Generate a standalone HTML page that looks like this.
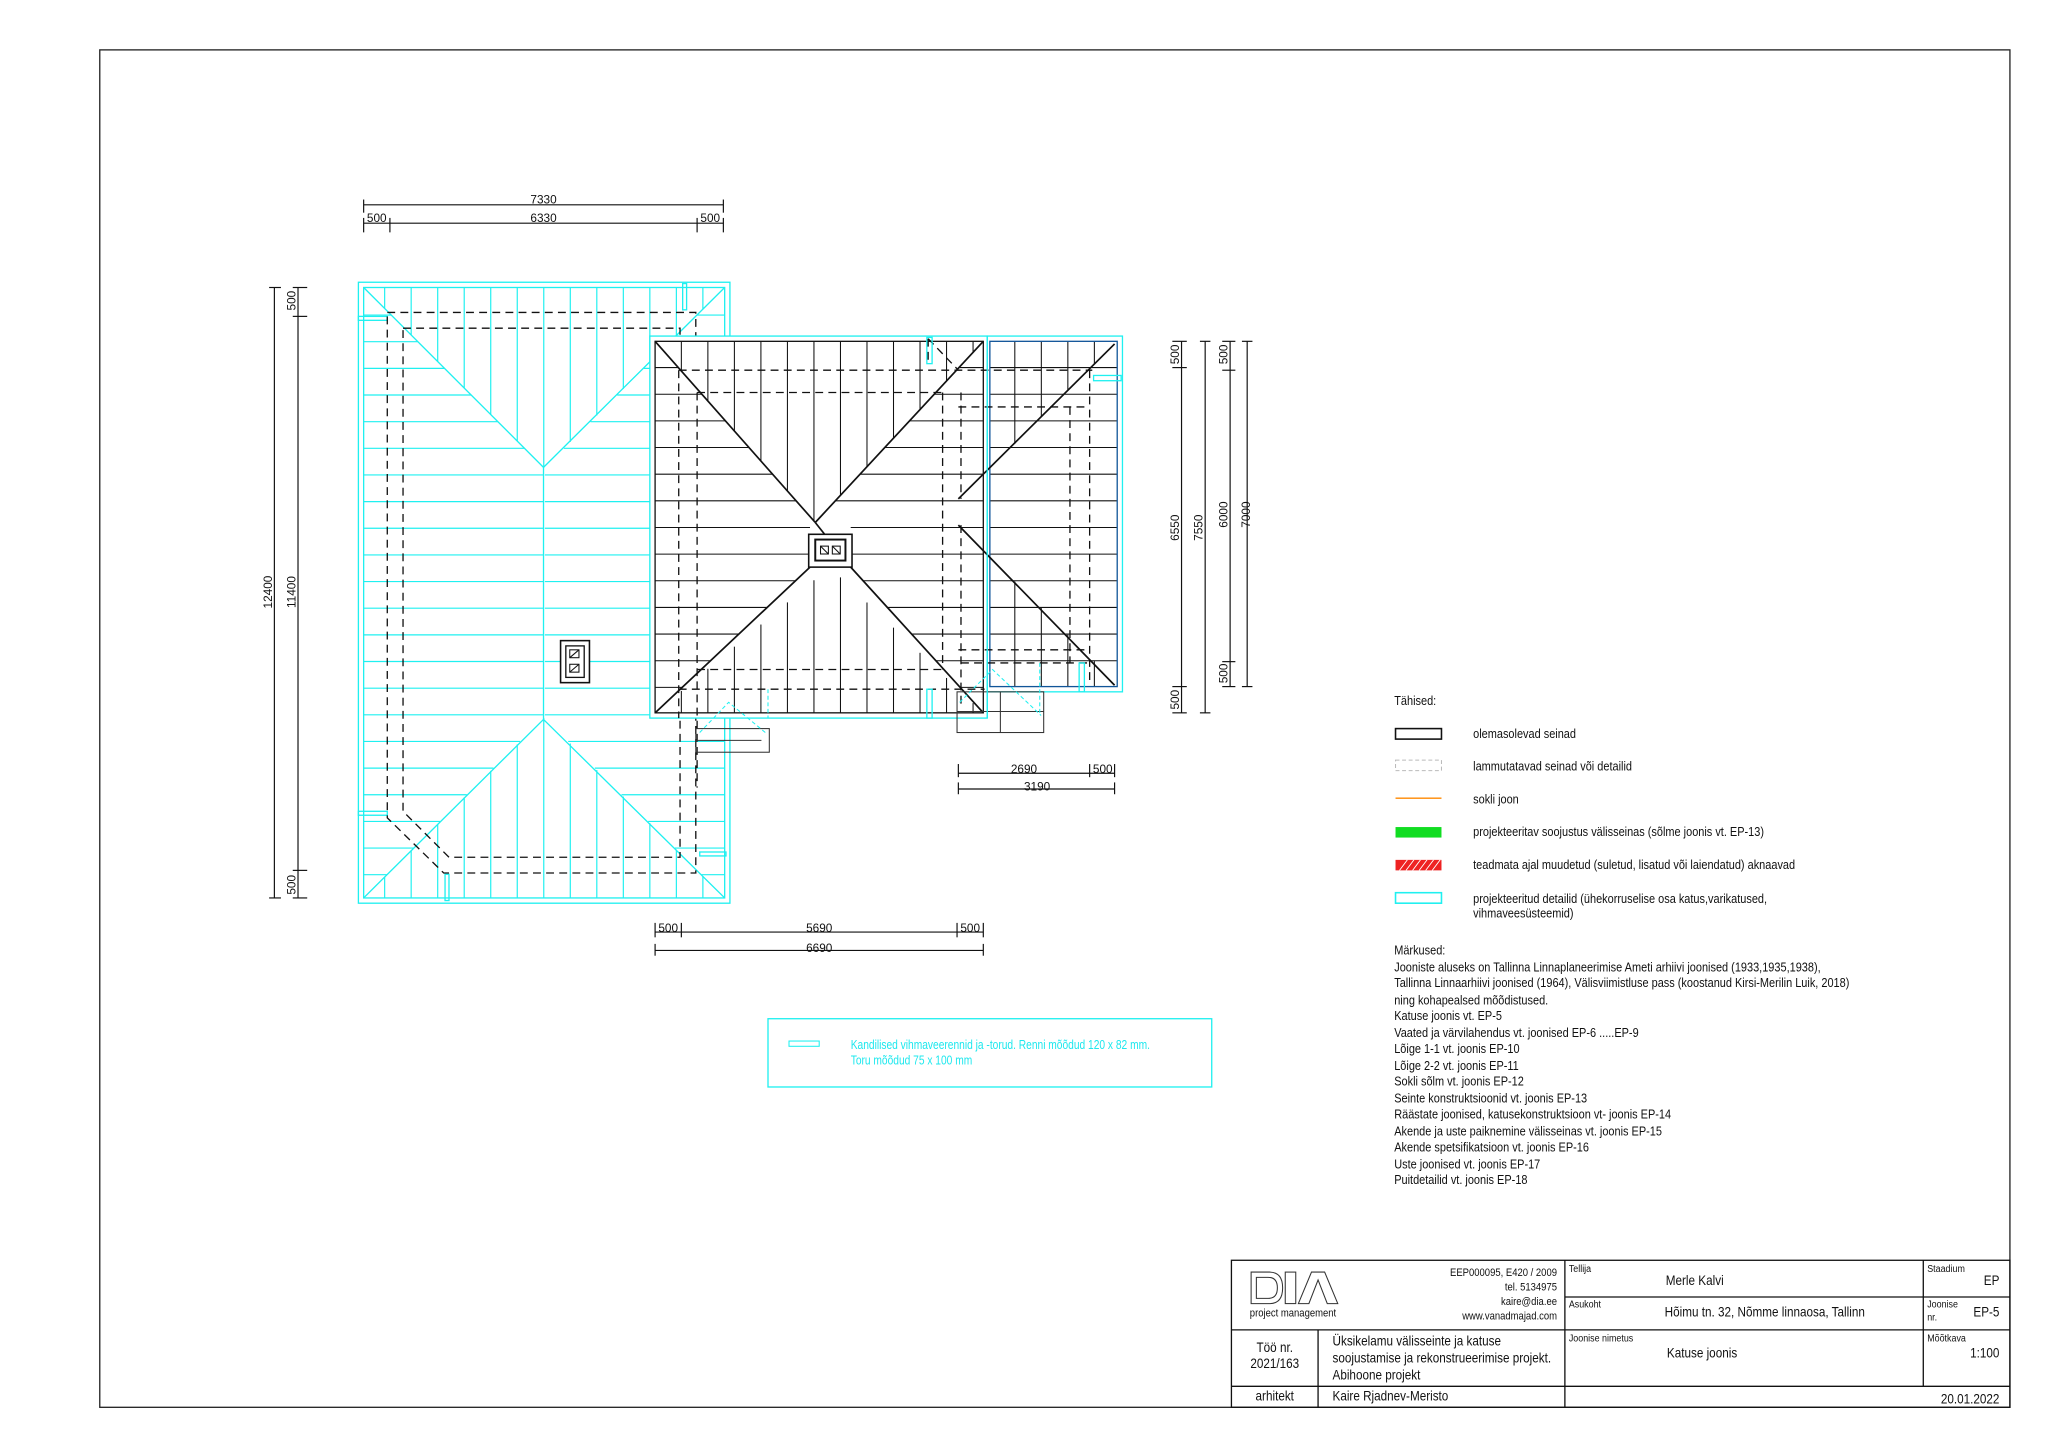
<!DOCTYPE html>
<html><head><meta charset="utf-8"><style>
html,body{margin:0;padding:0;background:#fff;}
svg{display:block}
text{font-family:"Liberation Sans Narrow","Liberation Sans",sans-serif;fill:#111;}
</style></head><body>
<svg id="s" width="2048" height="1448" viewBox="0 0 1560 1103" preserveAspectRatio="none" xmlns="http://www.w3.org/2000/svg">
<rect x="0" y="0" width="1560" height="1103" fill="#fff"/>
<rect x="76" y="38" width="1455" height="1034" fill="none" stroke="#222" stroke-width="1"/>

<g id="cy" stroke="#1ff0f0" fill="none" stroke-width="0.9"></g>

<g stroke="#1ff0f0" fill="none" stroke-width="1">
<rect x="273" y="215" width="283" height="473"/>
<rect x="277" y="219" width="275" height="465"/>
<line x1="277" y1="219" x2="414" y2="356"/><line x1="552" y1="219" x2="414" y2="356"/>
<line x1="414" y1="356" x2="414" y2="548"/>
<line x1="277" y1="684" x2="414" y2="548"/><line x1="552" y1="684" x2="414" y2="548"/>
<rect x="273" y="241" width="22" height="3"/><rect x="273" y="618" width="22" height="3"/>
<rect x="520" y="216" width="3" height="20"/><rect x="339" y="666" width="3" height="20"/>
<rect x="533" y="649" width="20" height="3"/>
</g>
<g stroke="#111" fill="none" stroke-width="1" stroke-dasharray="6,4">
<polyline points="295,238 530,238 530,665 338,665 295,623 295,238"/>
<polyline points="307,250 518,250 518,653 342,653 307,618 307,250"/>
</g>
<g stroke="#111" fill="#fff" stroke-width="1.2">
<rect x="427" y="488" width="22" height="32"/><rect x="431" y="492" width="14" height="24" stroke-width="1"/>
<rect x="434" y="495" width="7" height="6" stroke-width="0.8"/><line x1="434" y1="501" x2="441" y2="495" stroke-width="0.8"/>
<rect x="434" y="506" width="7" height="6" stroke-width="0.8"/><line x1="434" y1="512" x2="441" y2="506" stroke-width="0.8"/>
</g>

<rect x="495" y="256" width="257" height="291" fill="#fff" stroke="#1ff0f0" stroke-width="1"/>
<rect x="752" y="256" width="103" height="271" fill="#fff" stroke="#1ff0f0" stroke-width="1"/>
<g id="bk2" stroke="#111" fill="none" stroke-width="0.8"></g>
<g stroke="#111" fill="none" stroke-width="1">
<rect x="499" y="260" width="250" height="283"/>
<rect x="754" y="260" width="97" height="263" stroke="#159"/>
<line x1="499" y1="260" x2="621" y2="398" stroke-width="1.3"/>
<line x1="749" y1="260" x2="621" y2="398" stroke-width="1.3"/>
<line x1="621" y1="398" x2="648" y2="432" stroke-width="1.3"/>
<line x1="499" y1="543" x2="617" y2="432" stroke-width="1.3"/>
<line x1="749" y1="543" x2="648" y2="432" stroke-width="1.3"/>
<line x1="849" y1="262" x2="730" y2="380" stroke-width="1.3"/>
<line x1="730" y1="400" x2="849" y2="522" stroke-width="1.3"/>
</g>
<g stroke="#111" fill="none" stroke-width="1" stroke-dasharray="6,4">
<line x1="517" y1="282" x2="832" y2="282"/>
<line x1="531" y1="299" x2="718" y2="299"/>
<line x1="730" y1="310" x2="830" y2="310"/>
<line x1="517" y1="282" x2="517" y2="547"/><line x1="531" y1="299" x2="531" y2="600"/>
<line x1="718" y1="299" x2="718" y2="510"/><line x1="732" y1="299" x2="732" y2="380"/><line x1="732" y1="400" x2="732" y2="540"/>
<line x1="815" y1="310" x2="815" y2="505"/><line x1="830" y1="282" x2="830" y2="520"/>
<line x1="531" y1="510" x2="718" y2="510"/><line x1="517" y1="525" x2="750" y2="525"/>
<line x1="730" y1="495" x2="830" y2="495"/><line x1="732" y1="505" x2="830" y2="505"/>
<line x1="707" y1="258" x2="707" y2="278"/><line x1="707" y1="258" x2="730" y2="282"/>
</g>
<g stroke="#111" fill="#fff" stroke-width="1.2">
<rect x="616" y="407" width="33" height="25"/><rect x="621" y="411" width="23" height="16" stroke-width="1.5"/>
<rect x="625" y="416" width="6" height="6" stroke-width="0.8"/><line x1="625" y1="416" x2="631" y2="422" stroke-width="0.8"/>
<rect x="634" y="416" width="6" height="6" stroke-width="0.8"/><line x1="634" y1="416" x2="640" y2="422" stroke-width="0.8"/>
</g>
<g stroke="#333" fill="none" stroke-width="0.8">
<rect x="729" y="527" width="66" height="31"/><line x1="762" y1="527" x2="762" y2="558"/><line x1="729" y1="542" x2="795" y2="542"/>
<rect x="530" y="555" width="56" height="18"/><line x1="530" y1="564" x2="580" y2="564"/>
</g>
<g stroke="#1ff0f0" fill="none" stroke-width="0.8" stroke-dasharray="3,2">
<polyline points="533,558 555,535 583,558"/><polyline points="731,535 756,510 793,545"/>
<line x1="585" y1="525" x2="585" y2="547"/><line x1="792" y1="505" x2="792" y2="545"/>
</g>
<g stroke="#1ff0f0" fill="none" stroke-width="1">
<rect x="706" y="257" width="4" height="20"/><rect x="706" y="525" width="4" height="22"/>
<rect x="833" y="286" width="21" height="4"/><rect x="822" y="505" width="4" height="22"/>
<line x1="752" y1="256" x2="752" y2="547"/>
</g>

<g stroke="#111" stroke-width="0.9" fill="none">
<line x1="277" y1="156" x2="551" y2="156"/><line x1="277" y1="152" x2="277" y2="162"/><line x1="551" y1="152" x2="551" y2="162"/>
<line x1="277" y1="170" x2="551" y2="170"/>
<line x1="277" y1="166" x2="277" y2="177"/><line x1="297" y1="166" x2="297" y2="177"/><line x1="531" y1="166" x2="531" y2="177"/><line x1="551" y1="166" x2="551" y2="177"/>
<line x1="209" y1="219" x2="209" y2="684"/><line x1="205" y1="219" x2="214" y2="219"/><line x1="205" y1="684" x2="214" y2="684"/>
<line x1="227" y1="219" x2="227" y2="684"/>
<line x1="223" y1="219" x2="234" y2="219"/><line x1="223" y1="241" x2="234" y2="241"/><line x1="223" y1="663" x2="234" y2="663"/><line x1="223" y1="684" x2="234" y2="684"/>
<line x1="900" y1="260" x2="900" y2="543"/><line x1="893" y1="260" x2="904" y2="260"/><line x1="893" y1="280" x2="904" y2="280"/><line x1="893" y1="523" x2="904" y2="523"/><line x1="893" y1="543" x2="904" y2="543"/>
<line x1="918" y1="260" x2="918" y2="543"/><line x1="914" y1="260" x2="922" y2="260"/><line x1="914" y1="543" x2="922" y2="543"/>
<line x1="937" y1="260" x2="937" y2="523"/><line x1="931" y1="260" x2="941" y2="260"/><line x1="931" y1="282" x2="941" y2="282"/><line x1="931" y1="504" x2="941" y2="504"/><line x1="931" y1="523" x2="941" y2="523"/>
<line x1="950" y1="260" x2="950" y2="523"/><line x1="946" y1="260" x2="954" y2="260"/><line x1="946" y1="523" x2="954" y2="523"/>
<line x1="499" y1="710" x2="749" y2="710"/><line x1="499" y1="703" x2="499" y2="714"/><line x1="519" y1="703" x2="519" y2="714"/><line x1="729" y1="703" x2="729" y2="714"/><line x1="749" y1="703" x2="749" y2="714"/>
<line x1="499" y1="724" x2="749" y2="724"/><line x1="499" y1="719" x2="499" y2="728"/><line x1="749" y1="719" x2="749" y2="728"/>
<line x1="730" y1="589" x2="849" y2="589"/><line x1="730" y1="582" x2="730" y2="592"/><line x1="830" y1="582" x2="830" y2="592"/><line x1="849" y1="582" x2="849" y2="592"/>
<line x1="730" y1="601" x2="849" y2="601"/><line x1="730" y1="596" x2="730" y2="605"/><line x1="849" y1="596" x2="849" y2="605"/>
</g>
<g font-size="9" text-anchor="middle">
<text x="414" y="155">7330</text><text x="287" y="169">500</text><text x="414" y="169">6330</text><text x="541" y="169">500</text>
<text x="509" y="710">500</text><text x="624" y="710">5690</text><text x="739" y="710">500</text><text x="624" y="725">6690</text>
<text x="780" y="589">2690</text><text x="840" y="589">500</text><text x="790" y="602">3190</text>
<text transform="translate(207,451) rotate(-90)">12400</text>
<text transform="translate(225,451) rotate(-90)">11400</text>
<text transform="translate(225,229) rotate(-90)">500</text>
<text transform="translate(225,674) rotate(-90)">500</text>
<text transform="translate(898,270) rotate(-90)">500</text>
<text transform="translate(898,402) rotate(-90)">6550</text>
<text transform="translate(898,533) rotate(-90)">500</text>
<text transform="translate(916,402) rotate(-90)">7550</text>
<text transform="translate(935,270) rotate(-90)">500</text>
<text transform="translate(935,392) rotate(-90)">6000</text>
<text transform="translate(935,513) rotate(-90)">500</text>
<text transform="translate(952,392) rotate(-90)">7000</text>
</g>

<rect x="585" y="776" width="338" height="52" fill="none" stroke="#1ff0f0" stroke-width="1"/>
<rect x="601" y="793" width="23" height="4" fill="none" stroke="#1ff0f0" stroke-width="0.8"/>
<g transform="translate(648,0) scale(0.82,1)" font-size="9.5">
<text x="0" y="799" style="fill:#1ee8ee">Kandilised vihmaveerennid ja -torud. Renni mõõdud 120 x 82 mm.</text>
<text x="0" y="811" style="fill:#1ee8ee">Toru mõõdud 75 x 100 mm</text>
</g>

<rect x="1063" y="555" width="35" height="8" fill="none" stroke="#111" stroke-width="1.2"/>
<rect x="1063" y="579" width="35" height="8" fill="none" stroke="#bbb" stroke-width="0.8" stroke-dasharray="3,2"/>
<line x1="1063" y1="608" x2="1098" y2="608" stroke="#f80" stroke-width="1"/>
<rect x="1063" y="630" width="35" height="8" fill="#11dd22"/>
<rect x="1063" y="655" width="35" height="8" fill="#ee2222"/>
<g stroke="#fff" stroke-width="0.7"><line x1="1066" y1="663" x2="1072" y2="655"/><line x1="1071" y1="663" x2="1077" y2="655"/><line x1="1076" y1="663" x2="1082" y2="655"/><line x1="1081" y1="663" x2="1087" y2="655"/><line x1="1086" y1="663" x2="1092" y2="655"/><line x1="1091" y1="663" x2="1097" y2="655"/></g>
<rect x="1063" y="680" width="35" height="8" fill="none" stroke="#1ff0f0" stroke-width="1.2"/>
<g transform="translate(1062,0) scale(0.835,1)" font-size="10">
<text x="0" y="537">Tähised:</text>
<text x="72" y="562">olemasolevad seinad</text>
<text x="72" y="587">lammutatavad seinad või detailid</text>
<text x="72" y="612">sokli joon</text>
<text x="72" y="637">projekteeritav soojustus välisseinas (sõlme joonis vt. EP-13)</text>
<text x="72" y="662">teadmata ajal muudetud (suletud, lisatud või laiendatud) aknaavad</text>
<text x="72" y="688">projekteeritud detailid (ühekorruselise osa katus,varikatused,</text>
<text x="72" y="699">vihmaveesüsteemid)</text>
<text x="0" y="727">Märkused:</text>
<text x="0" y="740">Jooniste aluseks on Tallinna Linnaplaneerimise Ameti arhiivi joonised (1933,1935,1938),</text>
<text x="0" y="752">Tallinna Linnaarhiivi joonised (1964), Välisviimistluse pass (koostanud Kirsi-Merilin Luik, 2018)</text>
<text x="0" y="765">ning kohapealsed mõõdistused.</text>
<text x="0" y="777">Katuse joonis vt. EP-5</text>
<text x="0" y="790">Vaated ja värvilahendus vt. joonised EP-6 .....EP-9</text>
<text x="0" y="802">Lõige 1-1 vt. joonis EP-10</text>
<text x="0" y="815">Lõige 2-2 vt. joonis EP-11</text>
<text x="0" y="827">Sokli sõlm vt. joonis EP-12</text>
<text x="0" y="840">Seinte konstruktsioonid vt. joonis EP-13</text>
<text x="0" y="852">Räästate joonised, katusekonstruktsioon vt- joonis EP-14</text>
<text x="0" y="865">Akende ja uste paiknemine välisseinas vt. joonis EP-15</text>
<text x="0" y="877">Akende spetsifikatsioon vt. joonis EP-16</text>
<text x="0" y="890">Uste joonised vt. joonis EP-17</text>
<text x="0" y="902">Puitdetailid vt. joonis EP-18</text>
</g>

<g stroke="#111" stroke-width="1" fill="none">
<rect x="938" y="960" width="593" height="112"/>
<line x1="1192" y1="960" x2="1192" y2="1072"/>
<line x1="1465" y1="960" x2="1465" y2="1056"/>
<line x1="1192" y1="988" x2="1531" y2="988"/>
<line x1="938" y1="1013" x2="1531" y2="1013"/>
<line x1="938" y1="1056" x2="1531" y2="1056"/>
<line x1="1004" y1="1013" x2="1004" y2="1072"/>
</g>
<g stroke="#333" stroke-width="0.8" fill="none">
<path d="M953,969 h14 q10,0 10,12 q0,12 -10,12 h-14 z M957,973 h9 q7,0 7,8 q0,8 -7,8 h-9 z"/>
<rect x="979" y="969" width="8" height="24"/>
<path d="M989,993 l10,-24 h10 l10,24 h-8 l-7,-18 l-7,18 z"/>
</g>
<g font-size="8.5">
<text x="952" y="1003" transform="translate(952,0) scale(0.85,1) translate(-952,0)">project management</text>
<g text-anchor="end" transform="translate(1186,0) scale(0.85,1) translate(-1186,0)">
<text x="1186" y="972">EEP000095, E420 / 2009</text>
<text x="1186" y="983">tel. 5134975</text>
<text x="1186" y="994">kaire@dia.ee</text>
<text x="1186" y="1005">www.vanadmajad.com</text>
</g>
<g font-size="8" transform="translate(1195,0) scale(0.85,1) translate(-1195,0)">
<text x="1195" y="969">Tellija</text>
<text x="1195" y="996">Asukoht</text>
<text x="1195" y="1022">Joonise nimetus</text>
</g>
<g font-size="8" transform="translate(1468,0) scale(0.85,1) translate(-1468,0)">
<text x="1468" y="969">Staadium</text>
<text x="1468" y="996">Joonise</text>
<text x="1468" y="1006">nr.</text>
<text x="1468" y="1022">Mõõtkava</text>
</g>
</g>
<g font-size="10.5">
<g transform="translate(1268,0) scale(0.85,1) translate(-1268,0)">
<text x="1269" y="979">Merle Kalvi</text>
<text x="1268" y="1003">Hõimu tn. 32, Nõmme linnaosa, Tallinn</text>
<text x="1270" y="1034">Katuse joonis</text>
</g>
<g text-anchor="end" transform="translate(1523,0) scale(0.85,1) translate(-1523,0)">
<text x="1523" y="979">EP</text>
<text x="1523" y="1003">EP-5</text>
<text x="1523" y="1034">1:100</text>
<text x="1523" y="1069">20.01.2022</text>
</g>
<g text-anchor="middle" transform="translate(971,0) scale(0.85,1) translate(-971,0)">
<text x="971" y="1030">Töö nr.</text>
<text x="971" y="1042">2021/163</text>
<text x="971" y="1067">arhitekt</text>
</g>
<g transform="translate(1015,0) scale(0.85,1) translate(-1015,0)">
<text x="1015" y="1025">Üksikelamu välisseinte ja katuse</text>
<text x="1015" y="1038">soojustamise ja rekonstrueerimise projekt.</text>
<text x="1015" y="1051">Abihoone projekt</text>
<text x="1015" y="1067">Kaire Rjadnev-Meristo</text>
</g>
</g>
</svg>
<script>
(function(){
var NS="http://www.w3.org/2000/svg";
function L(g,x1,y1,x2,y2){var l=document.createElementNS(NS,"line");l.setAttribute("x1",x1);l.setAttribute("y1",y1);l.setAttribute("x2",x2);l.setAttribute("y2",y2);g.appendChild(l);}
var cy=document.getElementById("cy");
for(var y=240;y<684;y+=20.3){var d=Math.min(y-219,137,684-y);L(cy,277,y,277+d,y);L(cy,552-d,y,552,y);}
for(var x=293;x<552;x+=20.2){var d2=Math.min(x-277,552-x);if(d2<=0)continue;L(cy,x,219,x,219+d2);L(cy,x,684-d2,x,684);}
var bk=document.getElementById("bk2");
function hipTopY(x){return x<=621? 260+(x-499)*138/122 : 260+(749-x)*138/128;}
function hipBotY(x){return x<=632? 543-(x-499)*111/133 : 543-(749-x)*111/117;}
for(var x=519;x<749;x+=20.2){L(bk,x,260,x,hipTopY(x));L(bk,x,hipBotY(x),x,543);}
function leftX(y){ if(y<398) return 499+(y-260)*122/138; if(y>432) return 499+(543-y)*118/111; return 617;}
function rightX(y){ if(y<398) return 749-(y-260)*128/138; if(y>432) return 749-(543-y)*101/111; return 648;}
for(var y=280;y<543;y+=20.3){L(bk,499,y,leftX(y),y);L(bk,rightX(y),y,749,y);}
for(var y=280;y<523;y+=20.3){L(bk,754,y,851,y);}
for(var x=773;x<851;x+=20.2){L(bk,x,260,x,Math.max(260,262+(849-x)));L(bk,x,Math.min(523,400+(x-730)),x,523);}
})();
</script>
</body></html>
